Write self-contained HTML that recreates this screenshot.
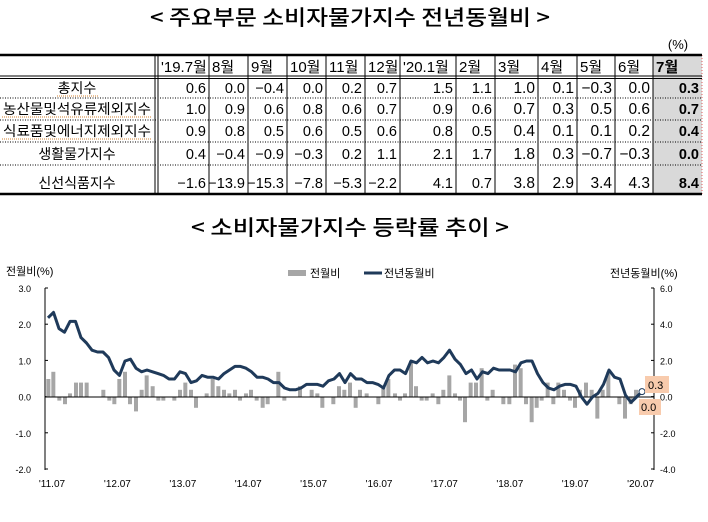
<!DOCTYPE html>
<html><head><meta charset="utf-8">
<style>
html,body{margin:0;padding:0;background:#fff;}
svg{display:block;font-family:"Liberation Sans","Noto Sans CJK KR",sans-serif;}
</style></head>
<body>
<svg id="s" width="708" height="522" viewBox="0 0 708 522" xmlns="http://www.w3.org/2000/svg">
<text x="350" y="25" font-size="21" font-weight="500" text-anchor="middle" textLength="400" lengthAdjust="spacingAndGlyphs" font-family="'Noto Sans CJK KR',sans-serif">&lt; 주요부문 소비자물가지수 전년동월비 &gt;</text>
<text x="350" y="235" font-size="21" font-weight="500" text-anchor="middle" textLength="318" lengthAdjust="spacingAndGlyphs" font-family="'Noto Sans CJK KR',sans-serif">&lt; 소비자물가지수 등락률 추이 &gt;</text>
<text x="678" y="49" font-size="13" text-anchor="middle">(%)</text>
<g id="tbl"></g>
<g id="chart"></g>
</svg>
<script>
const NS="http://www.w3.org/2000/svg";
function el(p,t,a,txt){const e=document.createElementNS(NS,t);for(const k in a)e.setAttribute(k,a[k]);if(txt!==undefined)e.textContent=txt;p.appendChild(e);return e;}
const T=document.getElementById('tbl');
const cols=[0,158,209,248,287,326,365,400,456,495,538,577,615,653,702];
el(T,'rect',{x:653,y:55,width:49,height:139,fill:'#d9d9d9'});
el(T,'line',{x1:702,y1:55,x2:702,y2:194,stroke:'#e06060','stroke-dasharray':'1,2'});
const rows=[55,77,98,120,142,165,194];
el(T,'line',{x1:0,y1:55,x2:702,y2:55,stroke:'#000','stroke-width':2.5});
el(T,'line',{x1:0,y1:76,x2:702,y2:76,stroke:'#000','stroke-width':1});
el(T,'line',{x1:0,y1:78.5,x2:702,y2:78.5,stroke:'#000','stroke-width':1});
for(let r=2;r<6;r++)el(T,'line',{x1:0,y1:rows[r],x2:702,y2:rows[r],stroke:'#000','stroke-dasharray':'1,1.5','stroke-width':1});
el(T,'line',{x1:0,y1:194,x2:702,y2:194,stroke:'#000','stroke-width':2.5});
el(T,'line',{x1:155,y1:55,x2:155,y2:194,stroke:'#000'});
el(T,'line',{x1:158,y1:55,x2:158,y2:194,stroke:'#000'});
for(let c=2;c<cols.length-1;c++)el(T,'line',{x1:cols[c],y1:55,x2:cols[c],y2:194,stroke:'#000'});
const hdr=["'19.7월","8월","9월","10월","11월","12월","'20.1월","2월","3월","4월","5월","6월","7월"];
hdr.forEach((h,i)=>el(T,'text',{x:cols[i+1]+3,y:72,'font-size':15,'font-weight':i==12?'bold':'normal',fill:'#000'},h));
const labels=["총지수","농산물및석유류제외지수","식료품및에너지제외지수","생활물가지수","신선식품지수"];
const data=[
["0.6","0.0","−0.4","0.0","0.2","0.7","1.5","1.1","1.0","0.1","−0.3","0.0","0.3"],
["1.0","0.9","0.6","0.8","0.6","0.7","0.9","0.6","0.7","0.3","0.5","0.6","0.7"],
["0.9","0.8","0.5","0.6","0.5","0.6","0.8","0.5","0.4","0.1","0.1","0.2","0.4"],
["0.4","−0.4","−0.9","−0.3","0.2","1.1","2.1","1.7","1.8","0.3","−0.7","−0.3","0.0"],
["−1.6","−13.9","−15.3","−7.8","−5.3","−2.2","4.1","0.7","3.8","2.9","3.4","4.3","8.4"]];
const base=[93,114,136,159,188];
labels.forEach((l,r)=>{
 const t=el(T,'text',{x:77,y:base[r],'font-size':14,'text-anchor':'middle'},l);
 if(r<3){el(T,'line',{x1:r==0?57:2,y1:base[r]+3,x2:r==0?98:152,y2:base[r]+3,stroke:'#d08030','stroke-dasharray':'1,1'});}
 if(r>=1&&r<=2){t.setAttribute('textLength',148);t.setAttribute('lengthAdjust','spacingAndGlyphs');}
 data[r].forEach((v,c)=>el(T,'text',{x:cols[c+2]-3,y:base[r],'font-size':(c>=8&&c<12)?15.5:14.5,'text-anchor':'end','font-weight':c==12?'bold':'normal'},v));
});
const C=document.getElementById('chart');
const Y0=397;
el(C,'text',{x:6,y:275,'font-size':11},'전월비(%)');
el(C,'rect',{x:288,y:270,width:18,height:6,fill:'#a6a6a6'});
el(C,'text',{x:310,y:277,'font-size':11},'전월비');
el(C,'line',{x1:364,y1:273,x2:382,y2:273,stroke:'#1f3a5a','stroke-width':3});
el(C,'text',{x:384,y:277,'font-size':11},'전년동월비');
el(C,'text',{x:610,y:277,'font-size':11},'전년동월비(%)');
const lt=["3.0","2.0","1.0","0.0","-1.0","-2.0"],rt=["6.0","4.0","2.0","0.0","-2.0","-4.0"];
for(let i=0;i<6;i++){const y=288+i*36.2;
 el(C,'text',{x:31,y:y+4,'font-size':9,'text-anchor':'end'},lt[i]);
 el(C,'line',{x1:45,y1:y,x2:48,y2:y,stroke:'#000'});
 el(C,'text',{x:660,y:y+4,'font-size':9},rt[i]);
 el(C,'line',{x1:651,y1:y,x2:654,y2:y,stroke:'#000'});}
el(C,'line',{x1:45,y1:288,x2:45,y2:470,stroke:'#000'});
el(C,'line',{x1:654,y1:288,x2:654,y2:470,stroke:'#000'});
const bars=[[145,.5],[160,.7],[178,-.1],[195,-.2],[210,.1],[228,.4],[243,.4],[260,.4],[310,.2],[328,-.1],[343,-.2],[358,.5],[375,.7],[390,-.2],[408,-.4],[425,.2],[440,.6],[458,.3],[475,-.1],[490,-.1],[523,-.1],[540,.2],[556,.4],[573,.2],[588,-.3],[620,.1],[638,.5],[655,.3],[672,.2],[688,.1],[705,.2],[720,-.1],[738,.1],[753,.2],[770,-.1],[788,-.3],[803,-.2],[835,.7],[853,-.1],[900,.3],[935,.2],[952,.1],[967,-.3],[1000,-.2],[1017,.3],[1033,.2],[1050,.4],[1067,-.3],[1080,.2]].map(b=>[b[0]/3,b[1]]);
[[50,.1],[85,-.2],[100,.3],[115,.5],[135,.1],[150,-.1],[165,.1],[183,1.0],[198,.3],[215,-.1],[230,-.1],[248,.1],[265,-.2],[280,.2],[298,.6],[315,.1],[330,-.1],[345,-.7],[362,.4],[378,.4],[395,.8],[412,-.1],[428,.2],[460,-.2],[478,-.2],[495,.9],[512,.8],[528,-.2],[545,-.7],[560,-.3],[575,-.1],[593,.4],[610,-.2],[625,.4],[642,.2],[660,-.1],[675,-.3],[690,.2],[708,.4],[725,.2],[742,-.6],[758,.2],[775,.7],[808,-.2],[825,-.6],[842,-.2],[858,.2]].forEach(b=>bars.push([350+b[0]/3,b[1]]));
bars.forEach(b=>{const h=b[1]*36;el(C,'rect',{x:b[0]-2,y:h>0?Y0-h:Y0,width:4,height:Math.abs(h),fill:'#a6a6a6'});});
el(C,'line',{x1:45,y1:Y0,x2:654,y2:Y0,stroke:'#000'});
const yoy=[4.4,4.7,3.8,3.6,4.2,4.2,
3.3,3.0,2.6,2.5,2.5,2.2,1.5,1.2,2.0,2.1,1.6,1.4,
1.5,1.4,1.3,1.2,1.0,1.0,1.4,1.3,0.8,0.9,1.2,1.1,
1.1,1.0,1.3,1.5,1.7,1.7,1.6,1.4,1.1,1.1,1.0,0.8,
0.8,0.5,0.4,0.4,0.5,0.7,0.7,0.7,0.6,0.9,1.0,1.3,
0.8,1.3,1.0,1.0,0.8,0.8,0.7,0.5,1.2,1.5,1.5,1.3,
2.0,1.9,2.2,1.9,2.0,1.9,2.2,2.6,2.1,1.8,1.3,1.5,
1.0,1.4,1.3,1.6,1.5,1.5,1.5,1.4,1.9,2.0,2.0,1.3,
0.8,0.5,0.4,0.6,0.7,0.7,0.6,0.0,-0.4,0.0,0.2,0.7,
1.5,1.1,1.0,0.1,-0.3,0.0,0.3];
const pts=yoy.map((v,i)=>(48+5.5*i).toFixed(1)+','+(Y0-v*18).toFixed(1)).join(' ');
el(C,'polyline',{points:pts,fill:'none',stroke:'#1f3a5a','stroke-width':3,'stroke-linejoin':'round'});
el(C,'circle',{cx:642,cy:Y0-0.3*18,r:3,fill:'#fff',stroke:'#1f3a5a'});
el(C,'rect',{x:645,y:376,width:24,height:17,fill:'#f8cbad'});
el(C,'text',{x:648,y:389,'font-size':11},'0.3');
el(C,'rect',{x:639,y:399,width:22,height:16,fill:'#f8cbad'});
el(C,'text',{x:641,y:411,'font-size':11},'0.0');
const xl=["'11.07","'12.07","'13.07","'14.07","'15.07","'16.07","'17.07","'18.07","'19.07","'20.07"];
xl.forEach((t,i)=>el(C,'text',{x:52+i*65.4,y:487,'font-size':10,'text-anchor':'middle'},t));
</script>
</body></html>
